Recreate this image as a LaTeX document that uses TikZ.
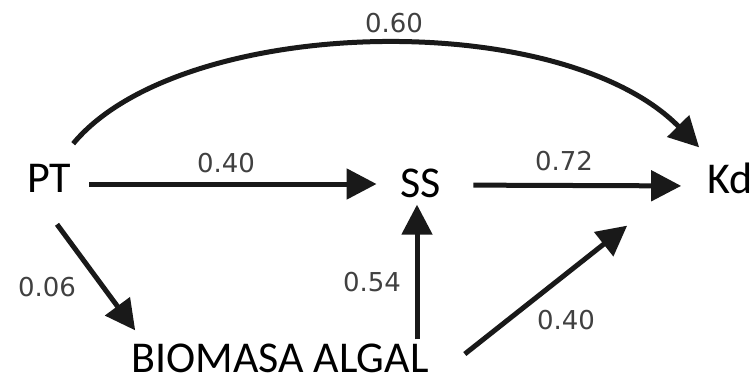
\documentclass[tikz,border=0pt]{standalone}
\usepackage{fontspec}
\setmainfont{Carlito}
\newfontfamily\numfont{DejaVu Sans}
\usetikzlibrary{arrows.meta}
\tikzset{
  var/.style={inner sep=0pt, font=\fontsize{44}{44}\selectfont, text=black},
  coef/.style={inner sep=0pt, font=\numfont\fontsize{26}{26}\selectfont, text=black!75},
  arr/.style={line width=5pt, -{Triangle[length=30pt,width=30pt]}, black!90}
}
\begin{document}
\begin{tikzpicture}[x=1pt,y=-1pt]
\useasboundingbox (0,0) rectangle (756,384);
% variables
\node[var] (PT)  at (49,178)  {PT};
\node[var] (SS)  at (421,183) {SS};
\node[var] (Kd)  at (730,178) {Kd};
\node[var] (BIO) at (280,358) {BIOMASA ALGAL};
% coefficients
\node[coef] (c60)  at (394,23)  {0.60};
\node[coef] (c40a) at (226,163) {0.40};
\node[coef] (c72)  at (564,161) {0.72};
\node[coef] (c06)  at (47,287)  {0.06};
\node[coef] (c54)  at (372,282) {0.54};
\node[coef] (c40b) at (566,320) {0.40};
% connectors
\draw[arr, shorten <=4pt, shorten >=7pt] ([xshift=-4pt]SS.south |- BIO.north) -- ([xshift=-4pt]SS.south);
\draw[arr, shorten <=18pt, shorten >=24pt] ([yshift=-6pt]PT.east) -- ([yshift=-1pt]SS.west);
\draw[arr, shorten <=32pt, shorten >=26pt] ([yshift=-2pt]SS.east) -- ([yshift=-8pt]Kd.west);
\draw[arr] ([shift={(8,32)}]PT.south) -- ([shift={(4,-13)}]BIO.north west);
\draw[arr] ([shift={(36,-4)}]BIO.east) -- ([shift={(-80,32)}]Kd.south west);
\draw[arr] ([shift={(2,-20)}]PT.north east) .. controls +(106,-128) and +(-140,-142) .. ([shift={(-8,-15)}]Kd.north west);
\end{tikzpicture}
\end{document}
